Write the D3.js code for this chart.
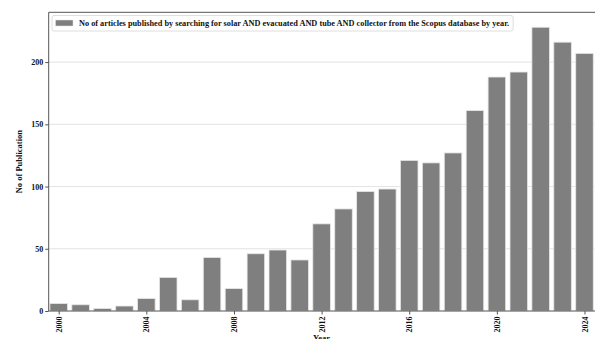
<!DOCTYPE html>
<html>
<head>
<meta charset="utf-8">
<script src="https://cdn.jsdelivr.net/npm/d3@7"></script>
<style>
  html, body { margin: 0; padding: 0; background: #fff; }
  svg { display: block; }
  text { font-family: "Liberation Serif", "Times New Roman", serif; font-weight: bold; }
</style>
</head>
<body>
<svg id="chart" width="595" height="339"></svg>
<script>
const years = [2000,2001,2002,2003,2004,2005,2006,2007,2008,2009,2010,2011,2012,2013,2014,2015,2016,2017,2018,2019,2020,2021,2022,2023,2024];
const counts = [6,5,2,4,10,27,9,43,18,46,49,41,70,82,96,98,121,119,127,161,188,192,228,216,207];
const yTicks = [0,50,100,150,200];
const xTickYears = [2000,2004,2008,2012,2016,2020,2024];
const legendLabel = "No of articles published by searching for solar AND evacuated AND tube AND collector from the Scopus database by year.";
const xLabel = "Year";
const yLabel = "No of Publication";

(function () {
const svg = d3.select("#chart");
const pL = 48.7, pR = 594.5, pT = 12.3, pB = 311;

const x = d3.scaleLinear().domain([years[0] - 0.457, years[years.length-1] + 0.457]).range([pL, pR]);
const y = d3.scaleLinear().domain([0, 240]).range([pB, pT]);
const bw = (x(1) - x(0)) * 0.8;

// grid
svg.append("g").selectAll("line").data(yTicks.filter(d => d > 0)).join("line")
  .attr("x1", pL).attr("x2", pR)
  .attr("y1", d => y(d)).attr("y2", d => y(d))
  .attr("stroke", "#dcdcdc").attr("stroke-width", 0.8);

// bars
svg.append("g").selectAll("rect").data(years.map((yr, i) => ({yr, v: counts[i]}))).join("rect")
  .attr("x", d => x(d.yr) - bw/2)
  .attr("width", bw)
  .attr("y", d => y(d.v))
  .attr("height", d => y(0) - y(d.v))
  .attr("fill", "#7f7f7f")
  .attr("stroke", "#e6e6e6").attr("stroke-width", 0.8);

// top spine
svg.append("line").attr("x1", pL).attr("x2", 595).attr("y1", pT).attr("y2", pT)
  .attr("stroke", "#555").attr("stroke-width", 1);

// axes
const yAxis = d3.axisLeft(y).tickValues(yTicks).tickSize(3.5).tickPadding(2);
const gy = svg.append("g").attr("transform", `translate(${pL},0)`).call(yAxis);
gy.select(".domain").attr("stroke", "#555").attr("d", `M0,${pT}V${pB}`);
gy.selectAll(".tick line").attr("stroke", "#555");
gy.selectAll(".tick text").attr("font-size", 8).attr("fill", "#111");

const xAxis = d3.axisBottom(x).tickValues(xTickYears).tickFormat(d3.format("d")).tickSize(3.5).tickPadding(2);
const gx = svg.append("g").attr("transform", `translate(0,${pB})`).call(xAxis);
gx.select(".domain").attr("stroke", "#555").attr("d", `M${pL},0H${595}`);
gx.selectAll(".tick line").attr("stroke", "#555");
gx.selectAll(".tick text").attr("font-size", 8).attr("fill", "#111")
  .attr("transform", "rotate(-90)")
  .attr("text-anchor", "end")
  .attr("x", -5.5).attr("y", 0).attr("dy", "0.32em");

// axis labels
svg.append("text").attr("x", (pL + pR) / 2).attr("y", 340.5)
  .attr("text-anchor", "middle").attr("font-size", 8.5).attr("fill", "#111").text(xLabel);
svg.append("text").attr("transform", `translate(22,${(pT + pB) / 2}) rotate(-90)`)
  .attr("text-anchor", "middle").attr("font-size", 8.5).attr("fill", "#111").text(yLabel);

// legend
const lg = svg.append("g");
const lbox = lg.append("rect").attr("x", 52).attr("y", 15.5).attr("height", 15.5)
  .attr("rx", 2).attr("fill", "#fff").attr("fill-opacity", 0.85)
  .attr("stroke", "#d5d5d5").attr("stroke-width", 0.8);
lg.append("rect").attr("x", 55.5).attr("y", 20).attr("width", 17.5).attr("height", 6)
  .attr("fill", "#7f7f7f").attr("stroke", "#e6e6e6").attr("stroke-width", 0.5);
const lt = lg.append("text").attr("x", 79).attr("y", 26.3).attr("font-size", 9).attr("fill", "#111").text(legendLabel);
let tw = lt.node().getComputedTextLength();
const fs = 9 * 431 / tw;
lt.attr("font-size", fs.toFixed(2));
tw = lt.node().getComputedTextLength();
lbox.attr("width", 79 + tw + 4 - 52);
})();
</script>
</body>
</html>
